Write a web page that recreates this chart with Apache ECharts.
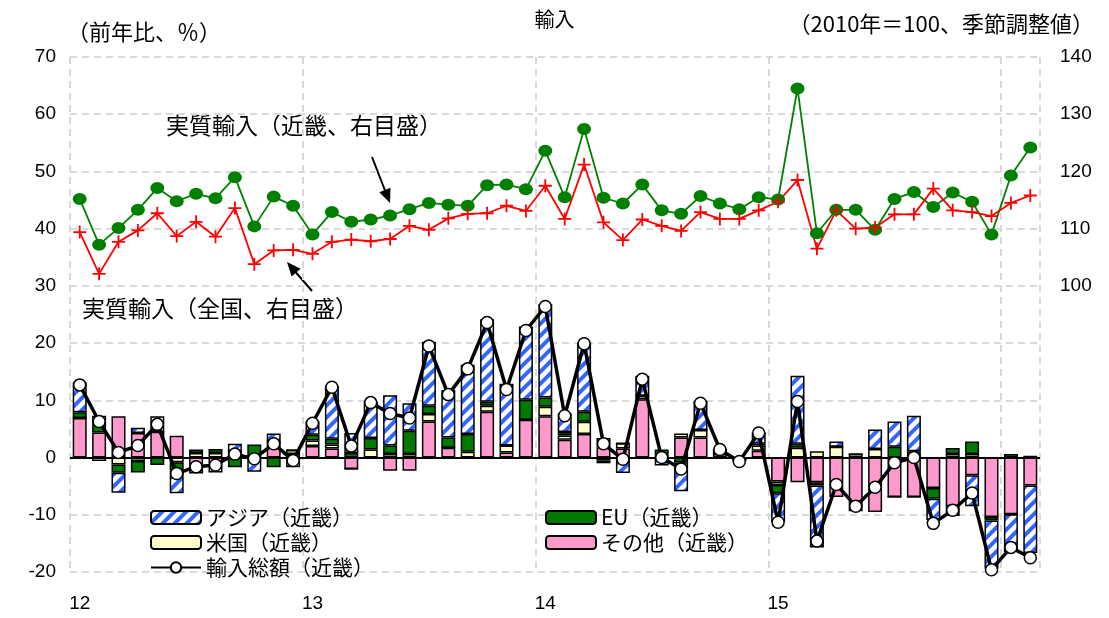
<!DOCTYPE html>
<html>
<head>
<meta charset="utf-8">
<script src="https://cdn.jsdelivr.net/npm/echarts@6/dist/echarts.min.js"></script>
<style>
  html, body { margin: 0; padding: 0; background: #fff; }
  #chart { width: 1109px; height: 618px; }
</style>
</head>
<body>
<div id="chart"></div>
<script>
// 近畿の輸入：寄与度（左目盛）と実質輸入（右目盛）
const years = ['12', '13', '14', '15', '16'];
const tickLabels = ['12', '13', '14', '15'];
const monthCount = 50;   // 2012/1 〜 2016/2

// 地域別寄与度（前年比、％）
const asia = [5.2, 1.4, -3.5, 0.9, 2.7, -4.0, -1.0, -1.0, 1.3, -2.3, 1.5, -1.7,
  2.3, 9.2, 3.5, 6.4, 8.8, 4.8, 11.2, 8.3, 12.1, 14.4, 10.8, 12.8,
  16.3, 3.3, 12.1, 1.6, -2.7, 3.5, -1.4, -5.1, 5.1, 0, -0.4, 2.0,
  -5.0, 11.9, -10.8, 0.9, -1.6, 3.4, 4.4, 6.2, -3.7, -1.7, -5.4, -8.4,
  -6.6, -11.8];
const eu = [1.0, 1.5, -1.45, -2.0, -1.3, -1.45, 0.6, 0.7, -1.7, 2.3, -1.7, 0,
  1.0, 1.0, 0.8, 2.0, 1.5, 4.1, 1.45, 1.8, 3.1, 0.7, 0, 3.5,
  1.6, 0.6, 1.75, -0.5, 0, 0, 0.9, -0.8, 0, 0.8, 0, 0.3,
  -1.45, 0.7, -0.6, 0, 0, 0, 1.9, 1.1, -1.9, 1.05, 2.2, -0.6,
  0.6, 0];
const usa = [0, -0.6, -1.2, -0.6, 0, -0.8, 0.8, 0.8, 0, 0, 0, 0.7,
  1.0, 0.7, 0, 1.4, 0.6, 0.6, 1.3, 0, 1.0, 1.05, 1.2, 0,
  1.7, 0.75, 2.15, -0.5, 0.9, 0.6, 0.5, 0.7, 1.3, 0, 0, 0.9,
  -0.6, 1.7, 1.1, 1.9, 0.6, 1.5, 0, 0, 0, 0.6, 0.6, 0,
  0, 0.2];
const others = [6.9, 4.4, 7.2, 4.3, 4.5, 3.8, -1.8, -1.6, 1.1, -0.2, 2.7, 0.6,
  2.0, 1.6, -2.0, 0, -2.3, -2.3, 6.3, 1.7, 0, 8.0, 0.9, 6.6,
  7.2, 3.1, 4.1, 1.8, 1.6, 10.2, 0, 3.5, 3.5, 0.6, -0.3, 1.2,
  -4.2, -4.3, -4.3, -6.9, -7.8, -9.5, -6.9, -6.9, -5.3, -8.5, -3.1, -10.4,
  -9.9, -4.9];
const total = [12.7, 6.3, 0.9, 2.1, 5.8, -2.8, -1.6, -1.3, 0.6, -0.2, 2.4, -0.5,
  6.0, 12.3, 2.0, 9.6, 7.7, 6.9, 19.5, 11.0, 15.5, 23.6, 11.9, 22.2,
  26.4, 7.3, 19.9, 2.4, -0.3, 13.7, 0.0, -2.0, 9.5, 1.4, -0.7, 4.3,
  -11.3, 9.8, -14.6, -4.7, -8.5, -5.2, -0.9, 0.0, -11.5, -9.2, -6.2, -19.6,
  -15.7, -17.5];

// 実質輸入（2010年＝100、季節調整値）
const realKinki = [115.2, 107.2, 110.1, 113.3, 117.1, 114.8, 116.1, 115.3, 119.0, 110.4, 115.6, 114.0,
  109.0, 112.9, 111.2, 111.6, 112.3, 113.4, 114.5, 114.2, 114.0, 117.6, 117.7, 116.9,
  123.6, 115.5, 127.4, 115.4, 114.4, 117.7, 113.2, 112.6, 115.7, 114.4, 113.4, 115.5,
  115.1, 134.5, 109.2, 113.3, 113.3, 109.8, 115.2, 116.4, 113.8, 116.3, 114.7, 109.0,
  119.3, 124.2];
const realJapan = [109.4, 102.1, 107.7, 109.7, 112.7, 108.7, 111.2, 108.6, 113.6, 103.8, 106.2, 106.3,
  105.6, 107.7, 108.1, 107.8, 108.2, 110.5, 109.8, 111.8, 112.6, 112.7, 114.0, 113.1,
  117.5, 111.7, 121.2, 111.1, 108.0, 111.6, 110.5, 109.6, 112.9, 111.7, 111.7, 113.2,
  114.7, 118.5, 106.5, 113.2, 110.0, 110.2, 112.5, 112.5, 117.0, 113.2, 112.9, 112.2,
  114.5, 115.8];

const months = [];
for (let i = 0; i < monthCount; i++) {
  months.push(years[Math.floor(i / 12)] + '/' + (i % 12 + 1));
}

const FONT = "'Liberation Sans', 'Noto Sans CJK JP', sans-serif";
const JFONT = "'Noto Sans CJK JP', sans-serif";

// アジアの斜線模様
function stripePattern() {
  const c = document.createElement('canvas');
  c.width = 12; c.height = 12;
  const g = c.getContext('2d');
  g.fillStyle = '#ffffff';
  g.fillRect(0, 0, 12, 12);
  g.strokeStyle = '#3366ff';
  g.lineWidth = 4;
  g.beginPath();
  g.moveTo(-6, 6); g.lineTo(6, -6);
  g.moveTo(0, 12); g.lineTo(12, 0);
  g.moveTo(6, 18); g.lineTo(18, 6);
  g.stroke();
  return { image: c, repeat: 'repeat' };
}

const chart = echarts.init(document.getElementById('chart'));

const barBase = {
  type: 'bar',
  stack: 'contrib',
  barWidth: 14,
  yAxisIndex: 0,
  z: 2
};
const border = { borderColor: '#000', borderWidth: 1.5 };

const option = {
  animation: false,
  backgroundColor: '#fff',
  textStyle: { fontFamily: FONT },
  title: [
    { text: '輸入', left: 'center', top: 4, textStyle: { fontSize: 20, fontWeight: 'normal', color: '#000', fontFamily: JFONT } },
    { text: '（前年比、％）', left: 62, top: 16, textStyle: { fontSize: 22, fontWeight: 'normal', color: '#000', fontFamily: JFONT } },
    { text: '（2010年＝100、季節調整値）', right: 10, top: 8, textStyle: { fontSize: 22, fontWeight: 'normal', color: '#000', fontFamily: JFONT } }
  ],
  grid: { left: 70, right: 69, top: 57, bottom: 46, containLabel: false },
  legend: [
    {
      data: ['アジア（近畿）', '米国（近畿）', '輸入総額（近畿）'],
      orient: 'vertical', left: 145, top: 502,
      itemWidth: 50, itemHeight: 13, itemGap: 4,
      textStyle: { fontSize: 21, color: '#000', fontFamily: JFONT }
    },
    {
      data: ['EU（近畿）', 'その他（近畿）'],
      orient: 'vertical', left: 540, top: 502,
      itemWidth: 50, itemHeight: 13, itemGap: 4,
      textStyle: { fontSize: 21, color: '#000', fontFamily: JFONT }
    }
  ],
  xAxis: {
    type: 'category',
    data: months,
    boundaryGap: true,
    axisLine: { show: false },
    axisTick: { show: false },
    axisLabel: {
      interval: 0,
      margin: 22,
      fontSize: 19,
      color: '#000',
      formatter: function (v, i) {
        return (i % 12 === 0 && tickLabels[i / 12] !== undefined) ? tickLabels[i / 12] : '';
      }
    },
    splitLine: {
      show: true,
      interval: function (i) { return i % 12 === 0; },
      lineStyle: { color: '#d9d9d9', width: 2, type: [7, 5] }
    }
  },
  yAxis: [
    {
      type: 'value', min: -20, max: 70, interval: 10,
      axisLine: { show: false }, axisTick: { show: false },
      axisLabel: { fontSize: 19, color: '#000', margin: 14 },
      splitLine: { show: true, lineStyle: { color: '#d9d9d9', width: 2, type: [7, 5] } }
    },
    {
      type: 'value', min: 50, max: 140, interval: 10,
      axisLine: { show: false }, axisTick: { show: false },
      axisLabel: {
        fontSize: 19, color: '#000', margin: 20,
        formatter: function (v) { return v >= 100 ? String(v) : ''; }
      },
      splitLine: { show: false }
    }
  ],
  series: [
    Object.assign({}, barBase, {
      name: 'その他（近畿）', data: others,
      itemStyle: Object.assign({ color: '#ff99cc' }, border),
      markLine: {
        silent: true, symbol: ['none', 'none'],
        label: { show: false },
        lineStyle: { color: '#000', type: 'solid', width: 2 },
        data: [{ yAxis: 0 }]
      }
    }),
    Object.assign({}, barBase, {
      name: '米国（近畿）', data: usa,
      itemStyle: Object.assign({ color: '#ffffcc' }, border)
    }),
    Object.assign({}, barBase, {
      name: 'EU（近畿）', data: eu,
      itemStyle: Object.assign({ color: '#007a00' }, border)
    }),
    Object.assign({}, barBase, {
      name: 'アジア（近畿）', data: asia,
      itemStyle: Object.assign({ color: stripePattern() }, border)
    }),
    {
      name: '輸入総額（近畿）', type: 'line', yAxisIndex: 0, data: total, z: 5,
      symbol: 'circle', symbolSize: 12,
      lineStyle: { color: '#000', width: 3.5 },
      itemStyle: { color: '#fff', borderColor: '#000', borderWidth: 1.5 }
    },
    {
      name: '実質輸入（近畿、右目盛）', type: 'line', yAxisIndex: 1, data: realKinki, z: 4,
      symbol: 'circle', symbolSize: [14, 12],
      lineStyle: { color: '#008000', width: 1.8 },
      itemStyle: { color: '#008000' }
    },
    {
      name: '実質輸入（全国、右目盛）', type: 'line', yAxisIndex: 1, data: realJapan, z: 4,
      symbol: 'path://M4.3,0h1.4v4.3h4.3v1.4h-4.3v4.3h-1.4v-4.3h-4.3v-1.4h4.3z',
      symbolSize: 13,
      lineStyle: { color: '#ff0000', width: 1.8 },
      itemStyle: { color: '#ff0000' }
    }
  ],
  graphic: [
    { type: 'text', left: 166, top: 114, style: { text: '実質輸入（近畿、右目盛）', font: '23px ' + JFONT, fill: '#000' } },
    { type: 'text', left: 82, top: 297, style: { text: '実質輸入（全国、右目盛）', font: '23px ' + JFONT, fill: '#000' } },
    { type: 'line', shape: { x1: 372, y1: 157, x2: 386, y2: 193 }, style: { stroke: '#000', lineWidth: 2 } },
    { type: 'polygon', shape: { points: [[390, 203], [379.3, 192.2], [390.5, 187.8]] }, style: { fill: '#000' } },
    { type: 'line', shape: { x1: 312, y1: 291, x2: 293, y2: 269 }, style: { stroke: '#000', lineWidth: 2 } },
    { type: 'polygon', shape: { points: [[287, 262], [300.6, 268.7], [291.6, 276.5]] }, style: { fill: '#000' } }
  ]
};

chart.setOption(option);
window.addEventListener('resize', () => chart.resize());
</script>
</body>
</html>
